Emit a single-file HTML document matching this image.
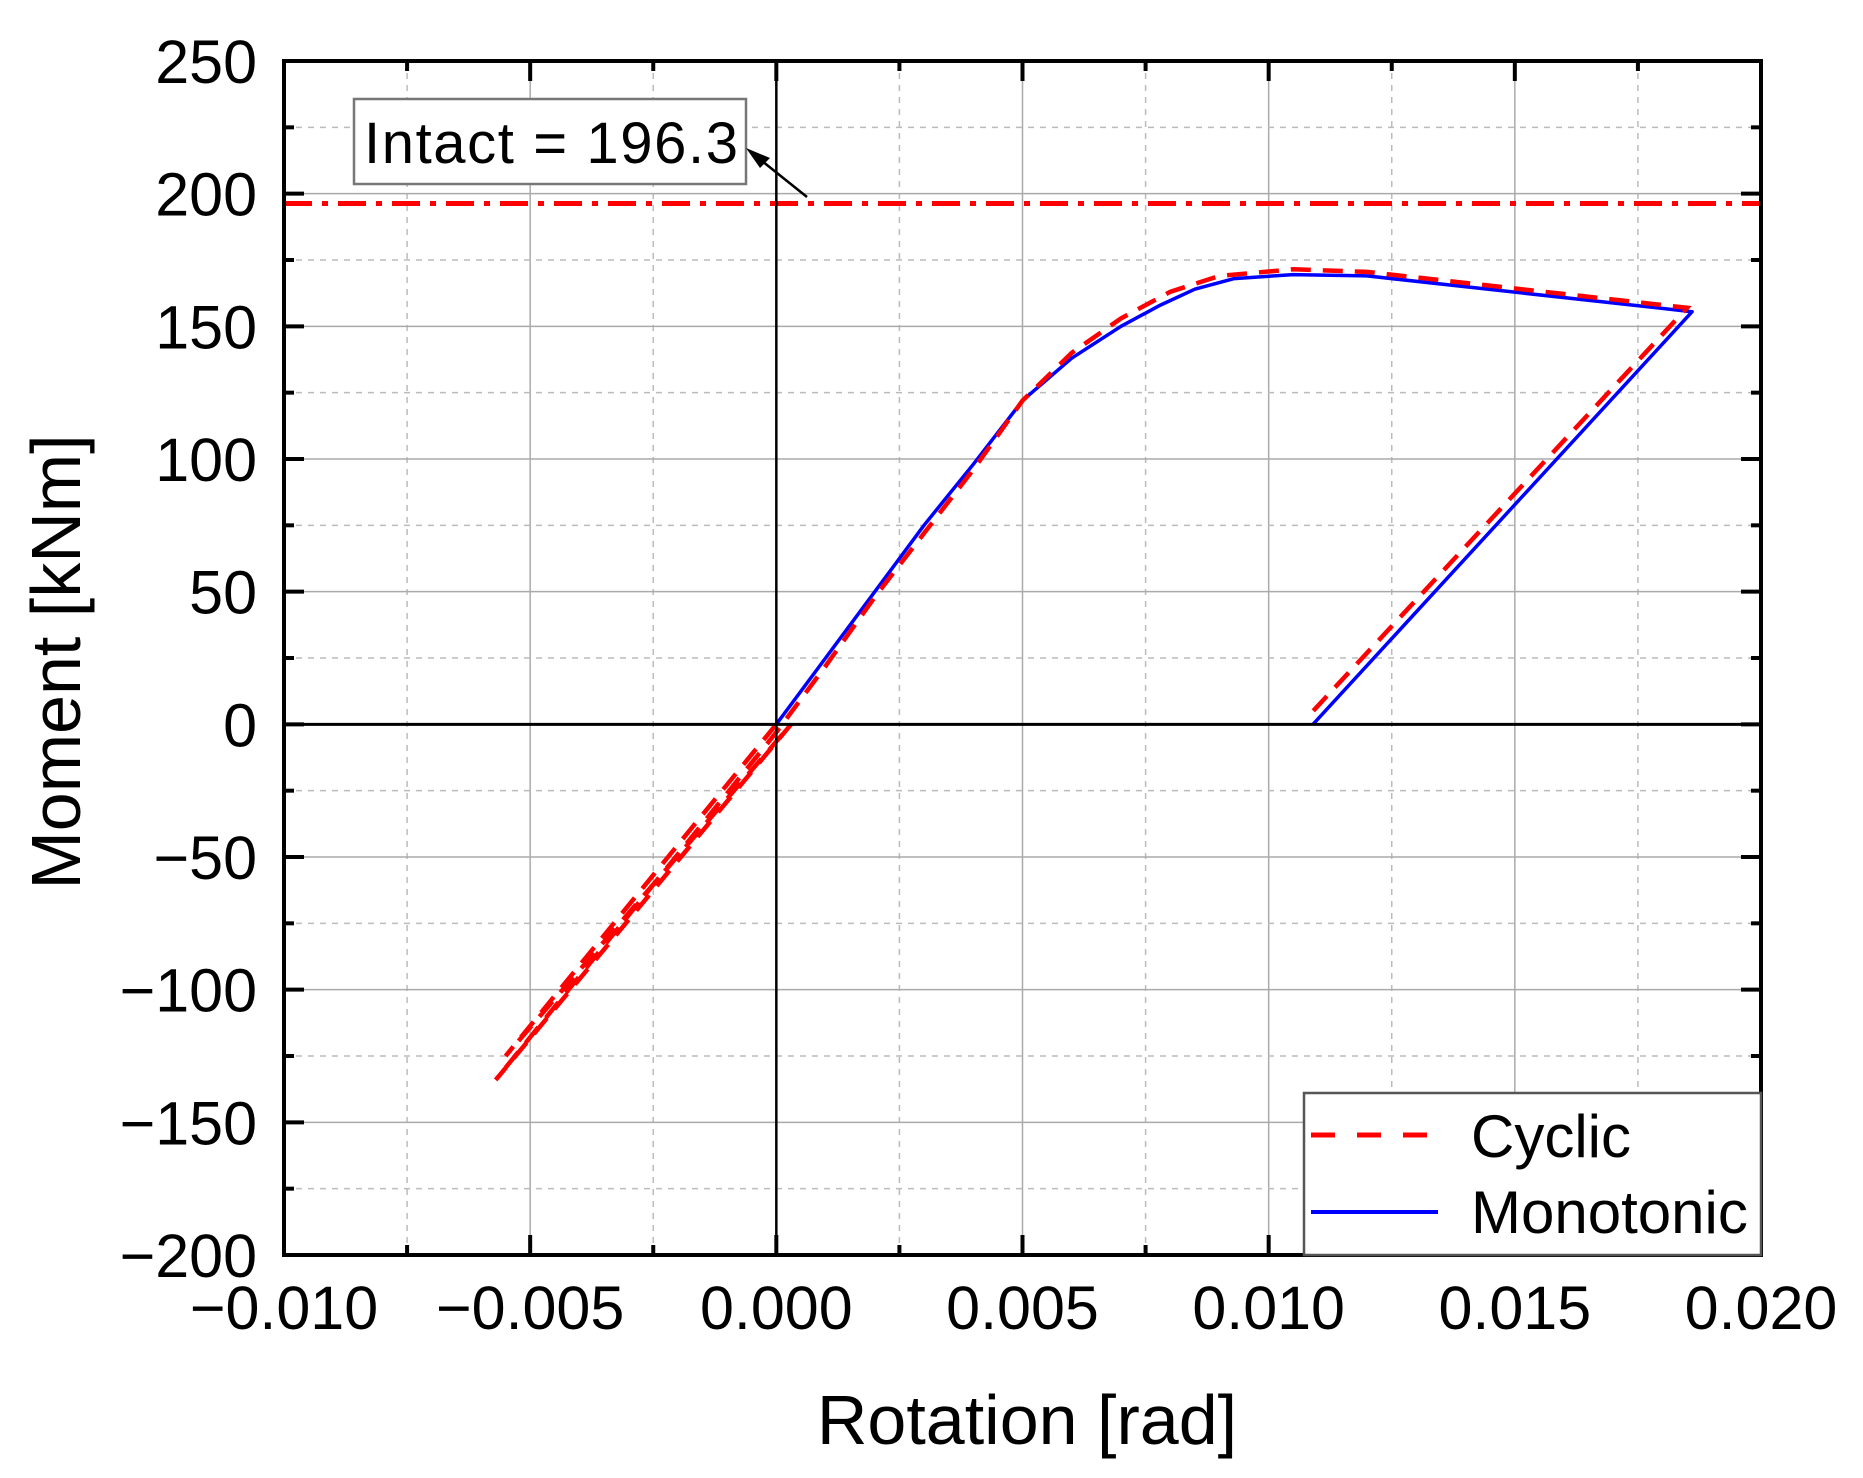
<!DOCTYPE html>
<html><head><meta charset="utf-8"><style>
html,body{margin:0;padding:0;background:#fff}
svg{display:block;font-family:"Liberation Sans",Arial,sans-serif}
</style></head><body>
<svg id="chart" width="1863" height="1478" viewBox="0 0 1863 1478" xmlns="http://www.w3.org/2000/svg">
<g id="grid"></g>
<g id="lines"></g>
<g id="axes"></g>
</svg>
<script>
const xTicks = [-0.010, -0.005, 0.000, 0.005, 0.010, 0.015, 0.020];
const xTickLabels = ["\u22120.010", "\u22120.005", "0.000", "0.005", "0.010", "0.015", "0.020"];
const yTicks = [250, 200, 150, 100, 50, 0, -50, -100, -150, -200];
const yTickLabels = ["250", "200", "150", "100", "50", "0", "\u221250", "\u2212100", "\u2212150", "\u2212200"];
const intactValue = 196.3;
const monoX = [0, 0.001, 0.002, 0.003, 0.004, 0.005, 0.006, 0.007, 0.0078, 0.0085, 0.0093, 0.0105, 0.012, 0.0186, 0.0109];
const monoY = [0, 25, 50, 75, 98, 122, 138, 150, 158, 164, 168, 169.5, 169, 155.5, 0];
const cycX = [0, -0.0055, 0.0003, -0.0057, 0, 0.001, 0.002, 0.003, 0.004, 0.005, 0.006, 0.007, 0.008, 0.009, 0.0105, 0.012, 0.0185, 0.0109];
const cycY = [0, -125, 0, -134, -3, 22, 48, 72, 96, 122, 140, 153, 163, 169, 171.5, 170.5, 157, 5];

const L=284, R=1761, T=61, B=1255;
const xMin=-0.01, xMax=0.02, yMin=-200, yMax=250;
const sx = v => L + (v - xMin) / (xMax - xMin) * (R - L);
const sy = v => B - (v - yMin) / (yMax - yMin) * (B - T);
const NS="http://www.w3.org/2000/svg";
function mk(parent, tag, attrs){const e=document.createElementNS(NS,tag);for(const k in attrs)e.setAttribute(k,attrs[k]);parent.appendChild(e);return e;}
const grid=document.getElementById('grid'), lines=document.getElementById('lines'), axes=document.getElementById('axes');

for(let i=0;i<xTicks.length;i++){
  const x=sx(xTicks[i]);
  const g=mk(grid,'line',{x1:x,x2:x,y1:T,y2:B,stroke:'#aaa','stroke-width':1.5});
  
  
  if(i<xTicks.length-1){const xm=sx((xTicks[i]+xTicks[i+1])/2);
    const m=mk(grid,'line',{x1:xm,x2:xm,y1:T,y2:B,stroke:'#bbb','stroke-width':1.5,'stroke-dasharray':'6 6'});
    
    }
}
for(let i=0;i<yTicks.length;i++){
  const y=sy(yTicks[i]);
  const g=mk(grid,'line',{x1:L,x2:R,y1:y,y2:y,stroke:'#aaa','stroke-width':1.5});
  
  
  if(i<yTicks.length-1){const ym=sy((yTicks[i]+yTicks[i+1])/2);
    const m=mk(grid,'line',{x1:L,x2:R,y1:ym,y2:ym,stroke:'#bbb','stroke-width':1.5,'stroke-dasharray':'6 6'});
    
    }
}
const zx=mk(axes,'line',{x1:sx(0),x2:sx(0),y1:T,y2:B,stroke:'#000','stroke-width':2.5});


const zy=mk(axes,'line',{x1:L,x2:R,y1:sy(0),y2:sy(0),stroke:'#000','stroke-width':3});



const il=mk(lines,'line',{x1:L,x2:R,y1:sy(intactValue),y2:sy(intactValue),stroke:'#f00','stroke-width':5,'stroke-dasharray':'28 10 6 10'});



function pts(xs,ys){return xs.map((v,i)=>sx(v).toFixed(1)+','+sy(ys[i]).toFixed(1)).join(' ');}
const mono=mk(lines,'polyline',{points:pts(monoX,monoY),fill:'none',stroke:'#00f','stroke-width':3.5,'stroke-linejoin':'round'});


const cyc=mk(lines,'polyline',{points:pts(cycX,cycY),fill:'none',stroke:'#f00','stroke-width':4.5,'stroke-dasharray':'20 12'});



const fr=mk(axes,'rect',{x:L,y:T,width:R-L,height:B-T,fill:'none',stroke:'#000','stroke-width':4});



for(let i=0;i<xTicks.length;i++){
  const x=sx(xTicks[i]);
  mk(axes,'line',{x1:x,x2:x,y1:B,y2:B-20,stroke:'#000','stroke-width':4});
  mk(axes,'line',{x1:x,x2:x,y1:T,y2:T+20,stroke:'#000','stroke-width':4});
  if(i<xTicks.length-1){const xm=sx((xTicks[i]+xTicks[i+1])/2);
    mk(axes,'line',{x1:xm,x2:xm,y1:B,y2:B-10,stroke:'#000','stroke-width':4});
    mk(axes,'line',{x1:xm,x2:xm,y1:T,y2:T+10,stroke:'#000','stroke-width':4});}
  const t=mk(axes,'text',{x:x,y:1329,'font-size':61,'text-anchor':'middle',fill:'#000'});
  t.textContent=xTickLabels[i];
  
  
}
for(let i=0;i<yTicks.length;i++){
  const y=sy(yTicks[i]);
  mk(axes,'line',{x1:L,x2:L+20,y1:y,y2:y,stroke:'#000','stroke-width':4});
  mk(axes,'line',{x1:R,x2:R-20,y1:y,y2:y,stroke:'#000','stroke-width':4});
  if(i<yTicks.length-1){const ym=sy((yTicks[i]+yTicks[i+1])/2);
    mk(axes,'line',{x1:L,x2:L+10,y1:ym,y2:ym,stroke:'#000','stroke-width':4});
    mk(axes,'line',{x1:R,x2:R-10,y1:ym,y2:ym,stroke:'#000','stroke-width':4});}
  const t=mk(axes,'text',{x:257,y:y+22,'font-size':61,'text-anchor':'end',fill:'#000'});
  t.textContent=yTickLabels[i];
  
  
}
</script>
<svg style="position:absolute;left:0;top:0" width="1863" height="1478">
<text x="0" y="0" transform="translate(80,662) rotate(-90)" font-size="70" text-anchor="middle" font-family="Liberation Sans, sans-serif">Moment [kNm]</text>
<text x="1027" y="1444" font-size="70" text-anchor="middle" font-family="Liberation Sans, sans-serif">Rotation [rad]</text>
<g>
<rect x="354" y="99" width="392" height="85" fill="#fff" stroke="#777" stroke-width="2.5"/>
<text x="364" y="163" font-size="58" font-family="Liberation Sans, sans-serif" textLength="374">Intact = 196.3</text>
<line x1="807" y1="197" x2="752" y2="153" stroke="#000" stroke-width="2.5"/>
<polygon points="746,148 770,158 760,168" fill="#000"/>
</g>
<g>
<rect x="1304" y="1093" width="457" height="162" fill="#fff" stroke="#555" stroke-width="2.5"/>
<line x1="1311" y1="1135" x2="1438" y2="1135" stroke="#f00" stroke-width="5" stroke-dasharray="24 22"/>
<text x="1471" y="1157" font-size="60" font-family="Liberation Sans, sans-serif">Cyclic</text>
<line x1="1311" y1="1212" x2="1438" y2="1212" stroke="#00f" stroke-width="4"/>
<text x="1471" y="1233" font-size="60" font-family="Liberation Sans, sans-serif">Monotonic</text>
</g>
</svg>
</body></html>
